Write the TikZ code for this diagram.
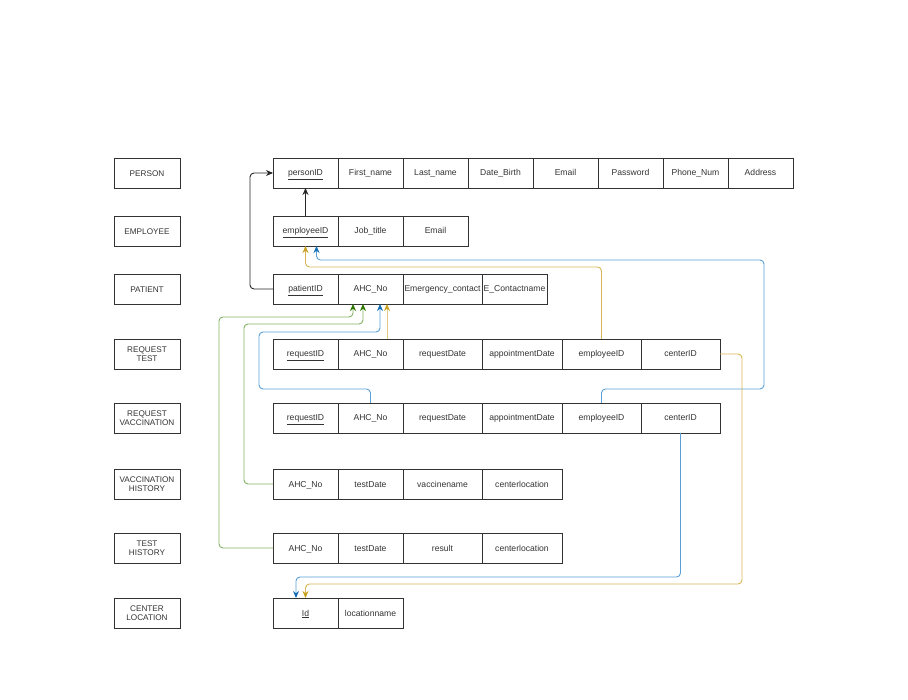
\documentclass[tikz,border=0pt]{standalone}
\usepackage{fontspec}
\setmainfont{Liberation Sans}
\usetikzlibrary{positioning,arrows.meta}

\definecolor{ylwl}{RGB}{214,182,86}
\definecolor{ylwt}{RGB}{200,160,30}
\definecolor{blul}{RGB}{90,160,215}
\definecolor{blut}{RGB}{20,110,180}
\definecolor{grnl}{RGB}{130,179,102}
\definecolor{grnt}{RGB}{45,118,0}

\tikzset{
  box/.style={draw=black!80, line width=0.9pt, minimum height=30pt, inner sep=0pt,
    outer sep=0pt, text=black!80},
  tbl/.style={box, minimum width=65pt, text height=6.4pt, text depth=0.4pt,
    font=\fontsize{8.6}{10}\selectfont},
  lbl/.style={box, minimum width=66pt, align=center, font=\fontsize{8.2}{9.6}\selectfont},
  fk/.style={line width=0.9pt, rounded corners=4pt},
  blk/.style={fk, draw=black!85, -{Stealth[length=7pt,width=6pt]}},
  ylw/.style={fk, draw=ylwl, -{Stealth[length=7pt,width=6pt,color=ylwt]}},
  blu/.style={fk, draw=blul, -{Stealth[length=7pt,width=6pt,color=blut]}},
  grn/.style={fk, draw=grnl, -{Stealth[length=7pt,width=6pt,color=grnt]}},
}

\begin{document}
\begin{tikzpicture}[x=1pt, y=-1pt]
  \useasboundingbox (0,0) rectangle (908,700);

  % table names
  \node[lbl] (l-per) at (147,173.5) {PERSON};
  \node[lbl] (l-emp) at (147,231.5) {EMPLOYEE};
  \node[lbl] (l-pat) at (147,289.5) {PATIENT};
  \node[lbl] (l-rt) at (147,354) {REQUEST\\TEST};
  \node[lbl] (l-rv) at (147,418) {REQUEST\\VACCINATION};
  \node[lbl] (l-vh) at (147,484) {VACCINATION\\HISTORY};
  \node[lbl] (l-th) at (147,548) {TEST\\HISTORY};
  \node[lbl] (l-cl) at (147,613) {CENTER\\LOCATION};

  % person
  \node[tbl, anchor=west] (per-id) at (273,173) {\underline{personID}};
  \node[tbl, right=0pt of per-id] (per-fn) {First\_name};
  \node[tbl, right=0pt of per-fn] (per-ln) {Last\_name};
  \node[tbl, right=0pt of per-ln] (per-dob) {Date\_Birth};
  \node[tbl, right=0pt of per-dob] (per-mail) {Email};
  \node[tbl, right=0pt of per-mail] (per-pw) {Password};
  \node[tbl, right=0pt of per-pw] (per-ph) {Phone\_Num};
  \node[tbl, right=0pt of per-ph] (per-adr) {Address};

  % employee
  \node[tbl, anchor=west] (emp-id) at (273,231) {\underline{employeeID}};
  \node[tbl, right=0pt of emp-id] (emp-job) {Job\_title};
  \node[tbl, right=0pt of emp-job] (emp-mail) {Email};

  % patient
  \node[tbl, anchor=west] (pat-id) at (273,289) {\underline{patientID}};
  \node[tbl, right=0pt of pat-id] (pat-ahc) {AHC\_No};
  \node[tbl, minimum width=79pt, right=0pt of pat-ahc] (pat-ec) {Emergency\_contact};
  \node[tbl, right=0pt of pat-ec] (pat-en) {E\_Contactname};

  % request test
  \node[tbl, anchor=west] (rt-id) at (273,354) {\underline{requestID}};
  \node[tbl, right=0pt of rt-id] (rt-ahc) {AHC\_No};
  \node[tbl, minimum width=79pt, right=0pt of rt-ahc] (rt-rd) {requestDate};
  \node[tbl, minimum width=80pt, right=0pt of rt-rd] (rt-ad) {appointmentDate};
  \node[tbl, minimum width=79pt, right=0pt of rt-ad] (rt-emp) {employeeID};
  \node[tbl, minimum width=79pt, right=0pt of rt-emp] (rt-ctr) {centerID};

  % request vaccination
  \node[tbl, anchor=west] (rv-id) at (273,418) {\underline{requestID}};
  \node[tbl, right=0pt of rv-id] (rv-ahc) {AHC\_No};
  \node[tbl, minimum width=79pt, right=0pt of rv-ahc] (rv-rd) {requestDate};
  \node[tbl, minimum width=80pt, right=0pt of rv-rd] (rv-ad) {appointmentDate};
  \node[tbl, minimum width=79pt, right=0pt of rv-ad] (rv-emp) {employeeID};
  \node[tbl, minimum width=79pt, right=0pt of rv-emp] (rv-ctr) {centerID};

  % vaccination history
  \node[tbl, anchor=west] (vh-ahc) at (273,484) {AHC\_No};
  \node[tbl, right=0pt of vh-ahc] (vh-td) {testDate};
  \node[tbl, minimum width=79pt, right=0pt of vh-td] (vh-vn) {vaccinename};
  \node[tbl, minimum width=80pt, right=0pt of vh-vn] (vh-cl) {centerlocation};

  % test history
  \node[tbl, anchor=west] (th-ahc) at (273,548) {AHC\_No};
  \node[tbl, right=0pt of th-ahc] (th-td) {testDate};
  \node[tbl, minimum width=79pt, right=0pt of th-td] (th-res) {result};
  \node[tbl, minimum width=80pt, right=0pt of th-res] (th-cl) {centerlocation};

  % center location
  \node[tbl, anchor=west] (cl-id) at (273,613) {\underline{Id}};
  \node[tbl, right=0pt of cl-id] (cl-name) {locationname};

  % keys
  \draw[blk] (emp-id.north) -- (per-id.south);
  \draw[blk] (pat-id.west) -- ++(-23,0) |- (per-id.west);
  \draw[ylw] (rt-emp.north) -- ++(0,-72) -| (emp-id.south);
  \draw[blu] (rv-emp.north) -- ++(0,-14) -| (764,260) -| ([xshift=11pt]emp-id.south);
  \draw[ylw, draw=ylwl!70] ([xshift=16.5pt]rt-ahc.north) -- ([xshift=16.5pt]pat-ahc.south);
  \draw[blu] (rv-ahc.north) -- ++(0,-14) -| (259,332) -| ([xshift=9.5pt]pat-ahc.south);
  \draw[grn] (vh-ahc.west) -| (244,324) -| ([xshift=-7.5pt]pat-ahc.south);
  \draw[grn] (th-ahc.west) -| (219,317) -| ([xshift=-17.5pt]pat-ahc.south);
  \draw[ylw] (rt-ctr.east) -| (742,584) -| (cl-id.north);
  \draw[blu] (rv-ctr.south) -- ++(0,144) -| ([xshift=-9.5pt]cl-id.north);
\end{tikzpicture}
\end{document}
